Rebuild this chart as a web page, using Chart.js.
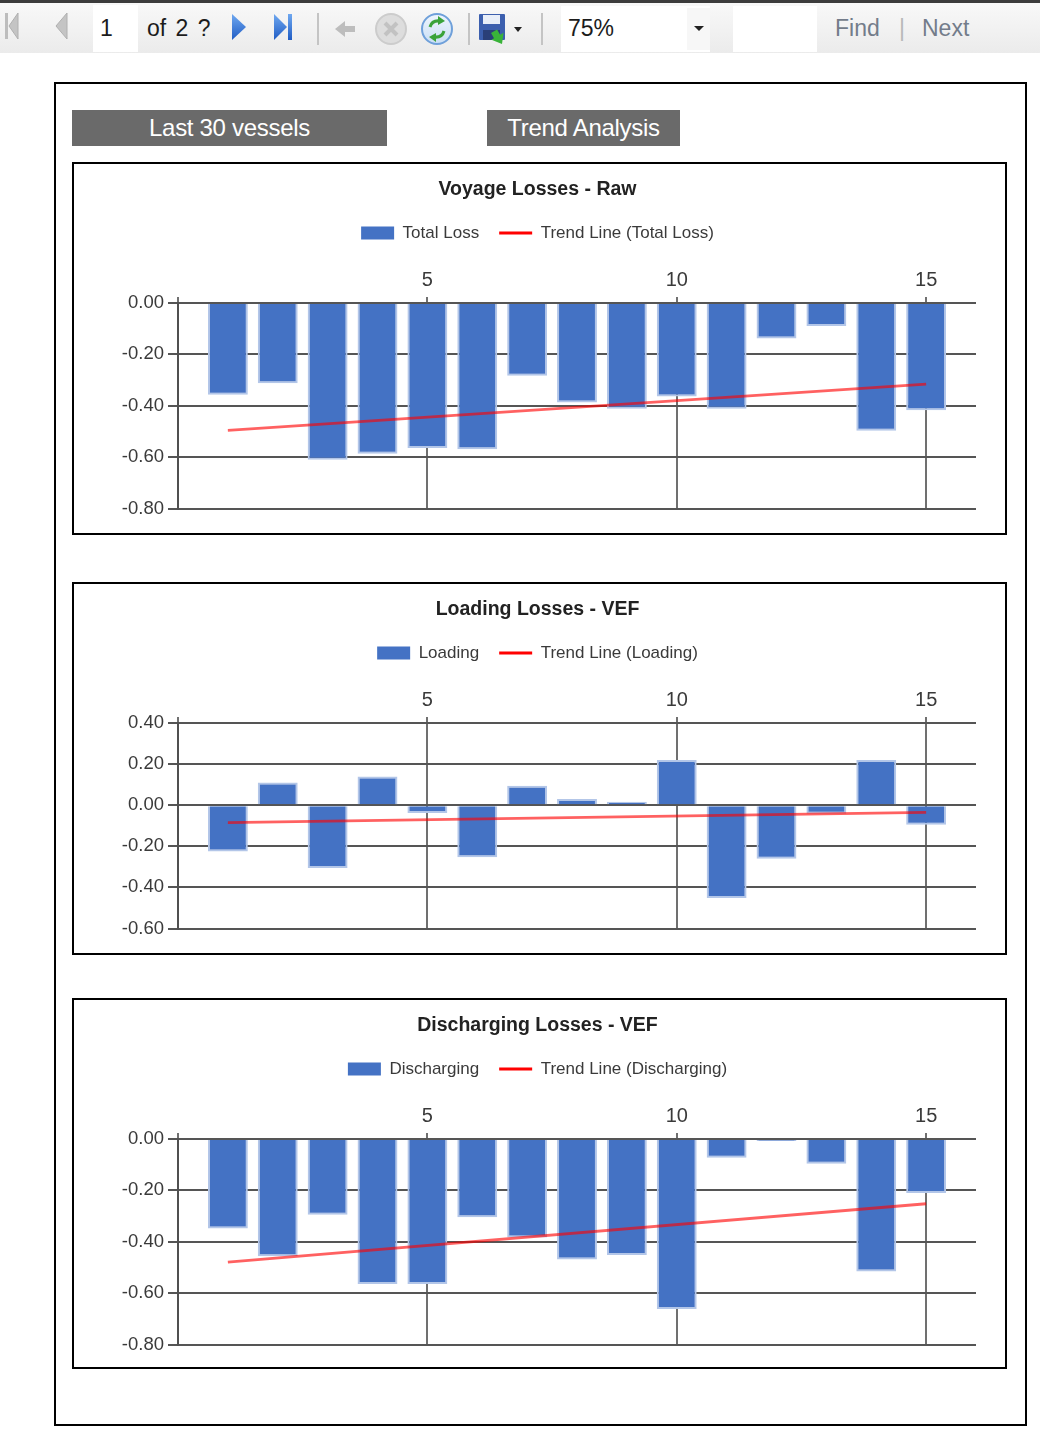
<!DOCTYPE html>
<html>
<head>
<meta charset="utf-8">
<script src="https://cdn.jsdelivr.net/npm/chart.js@4.4.1/dist/chart.umd.min.js"></script>
<style>
  html, body { margin:0; padding:0; background:#fff; }
  body { width:1040px; height:1450px; position:relative; overflow:hidden; font-family:"Liberation Sans", Arial, sans-serif; }
  .abs { position:absolute; }
  #toolbar { position:absolute; left:0; top:0; width:1040px; height:53px; background:linear-gradient(#f9f9f9, #ebebeb); }
  #topband { position:absolute; left:0; top:0; width:1040px; height:3px; background:#3c3c3c; }
  .tbtext { position:absolute; font-size:23px; line-height:23px; white-space:nowrap; }
  .sep { position:absolute; width:2px; background:#c4c4c4; top:13px; height:32px; }
  .whitebox { position:absolute; background:#fff; }
  .report { position:absolute; left:54px; top:82px; width:973px; height:1344px; border:2px solid #000; box-sizing:border-box; }
  .btn { position:absolute; background:#6a6a6a; color:#fff; font-size:24px; text-align:center; height:36px; line-height:36px; letter-spacing:-0.3px; white-space:nowrap; }
  .chartbox { position:absolute; left:72px; width:935px; border:2px solid #000; box-sizing:border-box; pointer-events:none; }
  canvas.chart { position:absolute; left:72px; }
</style>
</head>
<body>
<div id="toolbar"></div>
<div id="topband"></div>

<!-- toolbar icons -->
<svg class="abs" style="left:0;top:0" width="560" height="53">
  <rect x="5" y="13" width="3" height="26" fill="#bdbdbd"/>
  <polygon points="18,13 18,39 9,26" fill="#c4c4c4" stroke="#b0b0b0" stroke-width="1"/>
  <polygon points="67,13 67,39 56,26" fill="#c4c4c4" stroke="#b0b0b0" stroke-width="1"/>
  <defs>
    <linearGradient id="blu" x1="0" y1="0" x2="0" y2="1">
      <stop offset="0" stop-color="#6fa8f0"/>
      <stop offset="1" stop-color="#1f5cc4"/>
    </linearGradient>
    <linearGradient id="ref" x1="0" y1="0" x2="0" y2="1">
      <stop offset="0" stop-color="#eef5fd"/>
      <stop offset="1" stop-color="#c9def5"/>
    </linearGradient>
  </defs>
  <polygon points="232,14 232,40 246,27" fill="url(#blu)"/>
  <polygon points="274,14 274,40 287,27" fill="url(#blu)"/>
  <rect x="288" y="14" width="4" height="26" fill="url(#blu)"/>
  <polygon points="335,29 345,21 345,26 355,26 355,32 345,32 345,37" fill="#bdbdbd"/>
  <circle cx="391" cy="29" r="15" fill="#dddddd" stroke="#cccccc" stroke-width="2"/>
  <path d="M385 23 L397 35 M397 23 L385 35" stroke="#c2c2c2" stroke-width="4"/>
  <circle cx="437" cy="29" r="15" fill="url(#ref)" stroke="#6fa0da" stroke-width="2"/>
  <path d="M430 27 Q432 20 440 21" stroke="#3aa33a" stroke-width="3" fill="none"/>
  <polygon points="438,16 445,21 438,25" fill="#3aa33a"/>
  <path d="M444 31 Q442 38 434 37" stroke="#3aa33a" stroke-width="3" fill="none"/>
  <polygon points="436,33 429,37 436,42" fill="#3aa33a"/>
  <rect x="479" y="14" width="26" height="26" fill="#3c5fae" rx="1"/>
  <rect x="483" y="15" width="17" height="9" fill="#e8eef8"/>
  <rect x="483" y="30" width="17" height="10" fill="#2a3f78"/>
  <polygon points="494,30 501,30 501,36 505,36 498,45 491,36 494,36" fill="#39b339" transform="rotate(-30 498 37)"/>
  <polygon points="514,27 522,27 518,32" fill="#222"/>
</svg>
<div class="whitebox" style="left:93px;top:5px;width:45px;height:47px"></div>
<div class="tbtext" style="left:100px;top:17px;color:#1c1c1c">1</div>
<div class="tbtext" style="left:147px;top:17px;color:#1c1c1c;word-spacing:3px">of 2 ?</div>
<div class="sep" style="left:317px"></div>
<div class="sep" style="left:468px"></div>
<div class="sep" style="left:541px"></div>
<div class="whitebox" style="left:561px;top:6px;width:149px;height:46px"></div>
<div class="whitebox" style="left:687px;top:8px;width:23px;height:42px;background:#f7f7f7"></div>
<svg class="abs" style="left:692px;top:25px" width="14" height="8"><polygon points="2,1 12,1 7,6" fill="#222"/></svg>
<div class="tbtext" style="left:568px;top:17px;color:#1c1c1c">75%</div>
<div class="whitebox" style="left:733px;top:6px;width:84px;height:46px"></div>
<div class="tbtext" style="left:835px;top:17px;color:#737c8a">Find</div>
<div class="tbtext" style="left:899px;top:17px;color:#b8b8b8">|</div>
<div class="tbtext" style="left:922px;top:17px;color:#737c8a">Next</div>

<!-- report area -->
<div class="report"></div>
<div class="btn" style="left:72px;top:110px;width:315px">Last 30 vessels</div>
<div class="btn" style="left:487px;top:110px;width:193px">Trend Analysis</div>

<canvas class="chart" id="chart1" width="935" height="373" style="top:162px;width:935px;height:373px"></canvas>
<canvas class="chart" id="chart2" width="935" height="373" style="top:582px;width:935px;height:373px"></canvas>
<canvas class="chart" id="chart3" width="935" height="371" style="top:998px;width:935px;height:371px"></canvas>
<div class="chartbox" style="top:162px;height:373px"></div>
<div class="chartbox" style="top:582px;height:373px"></div>
<div class="chartbox" style="top:998px;height:371px"></div>

<script>
// ---- data ----
const vesselNumbers = [1, 2, 3, 4, 5, 6, 7, 8, 9, 10, 11, 12, 13, 14, 15];
const xTickLabels = [5, 10, 15];
const trendX = [1, 15];

const voyageTotalLoss = [-0.357, -0.312, -0.610, -0.587, -0.564, -0.569, -0.283, -0.387, -0.412, -0.364, -0.412, -0.138, -0.090, -0.497, -0.418];
const voyageTrend = [-0.496, -0.316];

const loadingLoss = [-0.225, 0.111, -0.306, 0.140, -0.038, -0.253, 0.095, 0.030, 0.017, 0.220, -0.452, -0.261, -0.042, 0.220, -0.095];
const loadingTrend = [-0.085, -0.035];

const dischargingLoss = [-0.348, -0.456, -0.295, -0.564, -0.564, -0.305, -0.383, -0.469, -0.452, -0.662, -0.073, -0.008, -0.096, -0.516, -0.210];
const dischargingTrend = [-0.479, -0.252];

const chartTitles = ['Voyage Losses - Raw', 'Loading Losses - VEF', 'Discharging Losses - VEF'];
const barLabels = ['Total Loss', 'Loading', 'Discharging'];
const trendLabels = ['Trend Line (Total Loss)', 'Trend Line (Loading)', 'Trend Line (Discharging)'];
const yRanges = [[-0.8, 0], [-0.6, 0.4], [-0.8, 0]];

// ---- drawing ----
const FONT = '"Liberation Sans", Arial, sans-serif';
const BAR_BLUE = '#4472C4';

function makeChart(canvasId, idx, values, trend, boxHeight) {
  const barData = vesselNumbers.map((x, i) => ({ x: x, y: values[i] }));
  const lineData = trendX.map((x, i) => ({ x: x, y: trend[i] }));
  return new Chart(document.getElementById(canvasId), {
    type: 'bar',
    data: {
      datasets: [
        { type: 'bar', label: barLabels[idx], data: barData, backgroundColor: BAR_BLUE,
          borderColor: '#b3c6e8', borderWidth: 2, categoryPercentage: 0.8, barPercentage: 1, order: 2 },
        { type: 'line', label: trendLabels[idx], data: lineData, borderColor: 'rgba(255,0,0,0.62)',
          borderWidth: 2.8, pointRadius: 0, fill: false, order: 1 }
      ]
    },
    options: {
      responsive: false,
      animation: false,
      devicePixelRatio: 1,
      layout: { padding: { left: 27, right: 31, top: 0, bottom: boxHeight - 346.5 } },
      plugins: {
        tooltip: { enabled: false },
        title: { display: true, text: chartTitles[idx], color: '#222222',
                 font: { family: FONT, size: 19.5, weight: 'bold' }, padding: { top: 15.5, bottom: 3.5 } },
        legend: {
          display: true,
          labels: {
            font: { family: FONT, size: 17 }, color: '#3a3a3a',
            usePointStyle: true, pointStyleWidth: 33, boxHeight: 13, padding: 20,
            sort: (a, b) => a.datasetIndex - b.datasetIndex,
            generateLabels: (chart) => Chart.defaults.plugins.legend.labels.generateLabels(chart).map(item => {
              if (item.datasetIndex === 0) { item.pointStyle = 'rect'; item.fillStyle = BAR_BLUE; item.lineWidth = 0; }
              else { item.pointStyle = 'line'; item.strokeStyle = '#ff0000'; item.lineWidth = 3; }
              return item;
            })
          }
        }
      },
      scales: {
        x: {
          type: 'linear', position: 'top', min: 0, max: 16, offset: false,
          ticks: { stepSize: 5, includeBounds: false, autoSkip: false, maxRotation: 0,
                   callback: v => xTickLabels.includes(v) ? String(v) : '',
                   font: { family: FONT, size: 20 }, color: '#3a3a3a', padding: 5 },
          grid: { offset: false, color: '#707070', lineWidth: 2, tickLength: 6 },
          border: { display: false },
          afterFit: s => { s.height = 51.6; }
        },
        y: {
          min: yRanges[idx][0], max: yRanges[idx][1],
          ticks: { stepSize: 0.2, callback: v => v.toFixed(2),
                   font: { family: FONT, size: 18.5 }, color: '#3a3a3a', padding: 4 },
          grid: { color: '#555555', lineWidth: 2, tickLength: 10 },
          border: { display: true, color: '#505050', width: 2 },
          afterFit: s => { s.width = 79; }
        }
      }
    }
  });
}

makeChart('chart1', 0, voyageTotalLoss, voyageTrend, 373);
makeChart('chart2', 1, loadingLoss, loadingTrend, 373);
makeChart('chart3', 2, dischargingLoss, dischargingTrend, 371);
</script>
</body>
</html>
